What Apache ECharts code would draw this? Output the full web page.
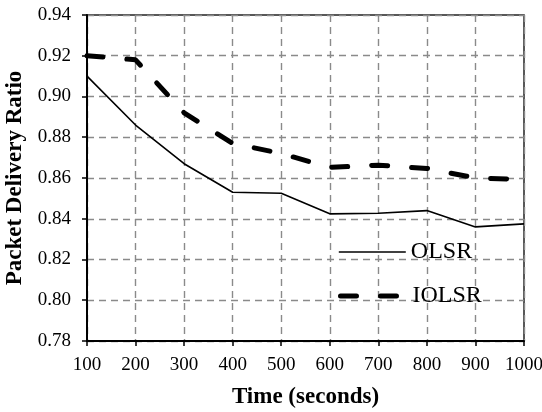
<!DOCTYPE html>
<html>
<head>
<meta charset="utf-8">
<script src="https://cdn.jsdelivr.net/npm/echarts@6/dist/echarts.min.js"></script>
<style>
  html, body { margin: 0; padding: 0; background: #fff; }
  #main { width: 542px; height: 412px; }
</style>
</head>
<body>
<div id="main"></div>
<script>
var times = [100, 200, 300, 400, 500, 600, 700, 800, 900, 1000];
var olsr = [0.910, 0.886, 0.867, 0.853, 0.8525, 0.8424, 0.8427, 0.844, 0.836, 0.8375];
var iolsr = [0.920, 0.918, 0.892, 0.877, 0.872, 0.8652, 0.8663, 0.8647, 0.860, 0.8593];

function pairs(vals) {
  return times.map(function (t, i) { return [t, vals[i]]; });
}

var font = 'Liberation Serif, Times New Roman, serif';
var gridLine = { show: true, lineStyle: { color: '#8a8a8a', width: 1.4, type: [7, 5] } };
var dashStyle = { color: '#000', width: 5, type: [16, 24], cap: 'round' };

option = {
  animation: false,
  backgroundColor: '#fff',
  textStyle: { fontFamily: font },
  grid: {
    left: 87, right: 18, top: 15, bottom: 71,
    outerBoundsMode: 'none',
    show: true, borderColor: '#222', borderWidth: 1.5
  },
  legend: [{
    left: 333, top: 235, itemWidth: 67, itemHeight: 2,
    itemStyle: { opacity: 0 },
    lineStyle: { color: '#000', width: 1.6 },
    textStyle: { fontFamily: font, fontSize: 24, color: '#000' },
    data: ['OLSR']
  }, {
    left: 333, top: 279, itemWidth: 67, itemHeight: 2,
    itemStyle: { opacity: 0 },
    lineStyle: dashStyle,
    textStyle: { fontFamily: font, fontSize: 24, color: '#000' },
    data: ['IOLSR']
  }],
  xAxis: {
    type: 'value',
    min: 100, max: 1000, interval: 100,
    name: 'Time (seconds)',
    nameLocation: 'middle',
    nameGap: 45,
    nameTextStyle: { fontFamily: font, fontSize: 23, fontWeight: 'bold', color: '#000' },
    axisLine: { lineStyle: { color: '#000', width: 2 } },
    axisTick: { show: true, length: 5, lineStyle: { color: '#000', width: 1.5 } },
    axisLabel: {
      fontFamily: font, fontSize: 19, color: '#000', margin: 15,
      formatter: function (v) { return String(v); }
    },
    splitLine: gridLine
  },
  yAxis: {
    type: 'value',
    min: 0.78, max: 0.94, interval: 0.02,
    name: 'Packet Delivery Ratio',
    nameLocation: 'middle',
    nameGap: 54,
    nameTextStyle: { fontFamily: font, fontSize: 23, fontWeight: 'bold', color: '#000' },
    axisLine: { show: true, lineStyle: { color: '#000', width: 2 } },
    axisTick: { show: true, length: 5, lineStyle: { color: '#000', width: 1.5 } },
    axisLabel: {
      fontFamily: font, fontSize: 19, color: '#000', margin: 16,
      formatter: function (v) { return v.toFixed(2); }
    },
    splitLine: gridLine
  },
  series: [{
    name: 'OLSR',
    type: 'line',
    symbol: 'none',
    color: '#000',
    lineStyle: { color: '#000', width: 1.6 },
    data: pairs(olsr)
  }, {
    name: 'IOLSR',
    type: 'line',
    symbol: 'none',
    color: '#000',
    lineStyle: dashStyle,
    data: pairs(iolsr)
  }]
};

var myChart = echarts.init(document.getElementById('main'));
myChart.setOption(option);
</script>
</body>
</html>
